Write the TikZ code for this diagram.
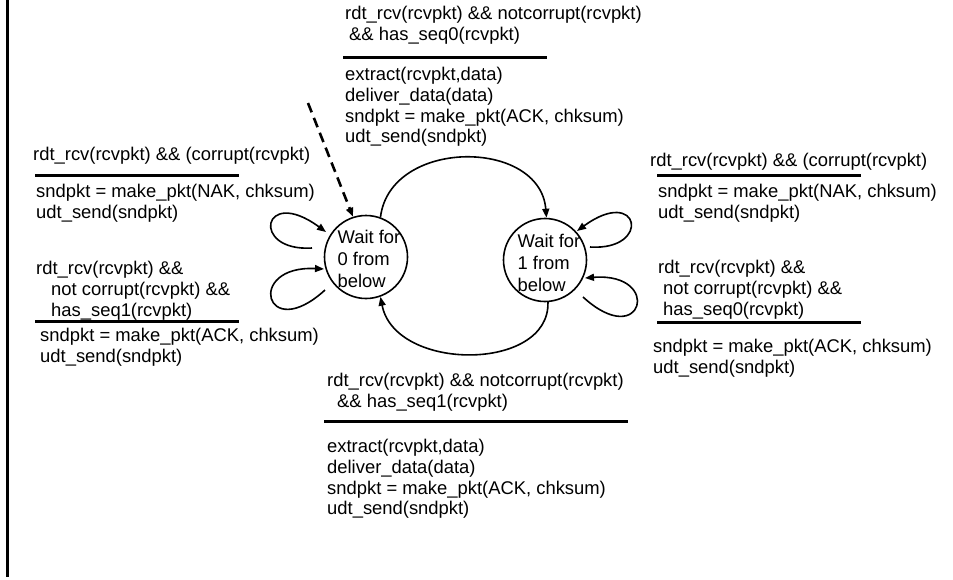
\documentclass[tikz,border=0pt]{standalone}
\usepackage{fontspec}
\setmainfont{Liberation Sans}
\usetikzlibrary{arrows.meta}
\begin{document}
\begin{tikzpicture}[x=1pt,y=-1pt,
  txt/.style={anchor=north west, inner sep=0pt, align=left,
              font=\fontsize{18.4}{20.8}\selectfont},
  rulebar/.style={line width=3pt},
  statenode/.style={circle, draw, line width=1.6pt, minimum size=83pt, inner sep=0pt},
  statelbl/.style={inner sep=0pt, align=left, font=\fontsize{18.4}{22}\selectfont},
  trans/.style={line width=1.6pt, -{Triangle[length=9pt,width=7pt]}},
  initarrow/.style={trans, line width=2.6pt, dash pattern=on 10pt off 6pt},
]
% canvas
\useasboundingbox (0,0) rectangle (953,579);
\fill[white] (0,0) rectangle (953,579);
\draw[line width=3pt] (7,0) -- (7,577);

% states
\node[statenode] (s0) at (366,257) {};
\node[statenode] (s1) at (545,260) {};
\node[statelbl] (s0txt) at (369,259) {Wait for\\0 from\\below};
\node[statelbl] (s1txt) at (549,263) {Wait for\\1 from\\below};

% initial transition
\coordinate (init) at (308,103);
\draw[initarrow] (init) -- (s0.108);

% transitions between states
\draw[trans] (s0.70) .. controls (390,138) and (540,138) .. (s1.88);
\draw[trans] (s1.-86) .. controls (550,372) and (395,372) .. (s0.-70);

% self loops on state 0
\coordinate (l0a) at (312,248); \coordinate (l0b) at (326,232);
\draw[trans] (l0a) .. controls (250,252) and (262,185) .. (l0b);
\coordinate (l0c) at (325,290); \coordinate (l0d) at (324,269);
\draw[trans] (l0c) .. controls (265,345) and (245,265) .. (l0d);

% self loops on state 1
\coordinate (l1a) at (590,247); \coordinate (l1b) at (577,231);
\draw[trans] (l1a) .. controls (652,251) and (640,185) .. (l1b);
\coordinate (l1c) at (583,297); \coordinate (l1d) at (585,278);
\draw[trans] (l1c) .. controls (643,352) and (663,272) .. (l1d);

% top label: 0 -> 1
\node[txt] (topg) at (345,6) {rdt\_rcv(rcvpkt) \&\& notcorrupt(rcvpkt)\\\hspace*{4pt}\&\& has\_seq0(rcvpkt)};
\draw[rulebar] (343,57) -- (547,57);
\node[txt] (topa) at (345,67) {extract(rcvpkt,data)\\deliver\_data(data)\\sndpkt = make\_pkt(ACK, chksum)\\udt\_send(sndpkt)};

% left labels
\node[txt] (lug) at (33,147) {rdt\_rcv(rcvpkt) \&\& (corrupt(rcvpkt)};
\draw[rulebar] (35,175) -- (239,175);
\node[txt] (lua) at (36,184) {sndpkt = make\_pkt(NAK, chksum)\\udt\_send(sndpkt)};

\node[txt] (llg) at (36,261) {rdt\_rcv(rcvpkt) \&\&\\\hspace*{15pt}not corrupt(rcvpkt) \&\&\\\hspace*{15pt}has\_seq1(rcvpkt)};
\draw[rulebar] (35,321) -- (239,321);
\node[txt] (lla) at (40,328) {sndpkt = make\_pkt(ACK, chksum)\\udt\_send(sndpkt)};

% right labels
\node[txt] (rug) at (650,153) {rdt\_rcv(rcvpkt) \&\& (corrupt(rcvpkt)};
\draw[rulebar] (657,175) -- (861,175);
\node[txt] (rua) at (658,184) {sndpkt = make\_pkt(NAK, chksum)\\udt\_send(sndpkt)};

\node[txt] (rlg) at (658,260) {rdt\_rcv(rcvpkt) \&\&\\\hspace*{5pt}not corrupt(rcvpkt) \&\&\\\hspace*{5pt}has\_seq0(rcvpkt)};
\draw[rulebar] (657,322) -- (861,322);
\node[txt] (rla) at (653,339) {sndpkt = make\_pkt(ACK, chksum)\\udt\_send(sndpkt)};

% bottom label: 1 -> 0
\node[txt] (botg) at (327,373) {rdt\_rcv(rcvpkt) \&\& notcorrupt(rcvpkt)\\\hspace*{10pt}\&\& has\_seq1(rcvpkt)};
\draw[rulebar] (324,421) -- (628,421);
\node[txt] (bota) at (327,439) {extract(rcvpkt,data)\\deliver\_data(data)\\sndpkt = make\_pkt(ACK, chksum)\\udt\_send(sndpkt)};
\end{tikzpicture}
\end{document}
